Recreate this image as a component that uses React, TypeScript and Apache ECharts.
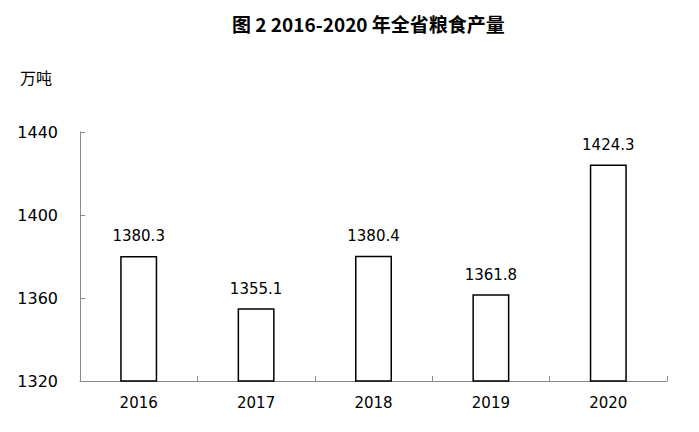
import React, { useEffect, useRef } from "react";
import * as echarts from "echarts";

const categories = ["2016", "2017", "2018", "2019", "2020"];
const production = [1380.3, 1355.1, 1380.4, 1361.8, 1424.3];
const yMin = 1320;
const yMax = 1440;
const yInterval = 40;

export default function App() {
  const ref = useRef<HTMLDivElement>(null);
  useEffect(() => {
    document.body.style.margin = "0";
    const chart = echarts.init(ref.current!, null, { renderer: "svg" });
    const font = "'DejaVu Sans', sans-serif";
    chart.setOption({
      animation: false,
      backgroundColor: "#ffffff",
      title: {
        text: "图 2 2016-2020 年全省粮食产量",
        left: 227,
        top: 9,
        textStyle: {
          fontFamily: "'Noto Sans CJK SC', sans-serif",
          fontSize: 19,
          fontWeight: "bold",
          color: "#000",
        },
      },
      graphic: [
        {
          type: "text",
          left: 20,
          top: 69,
          style: {
            text: "万吨",
            fontFamily: "'Noto Sans CJK SC', sans-serif",
            fontSize: 16,
            fill: "#000",
          },
        },
      ],
      grid: { left: 80, right: 32, top: 132, bottom: 51 },
      xAxis: {
        type: "category",
        data: categories,
        axisLine: { lineStyle: { color: "#888", width: 1 } },
        axisTick: { show: true, inside: true, length: 5, lineStyle: { color: "#888" } },
        axisLabel: { color: "#000", fontSize: 15, fontFamily: font, margin: 14 },
      },
      yAxis: {
        type: "value",
        min: yMin,
        max: yMax,
        interval: yInterval,
        splitLine: { show: false },
        axisLine: { show: true, lineStyle: { color: "#888", width: 1 } },
        axisTick: { show: true, inside: true, length: 5, lineStyle: { color: "#888" } },
        axisLabel: {
          color: "#000",
          fontSize: 16,
          fontFamily: font,
          margin: 22,
          formatter: (v: number) => String(v),
        },
      },
      series: [
        {
          type: "bar",
          data: production,
          barWidth: 37,
          itemStyle: { color: "#ffffff", borderColor: "#000", borderWidth: 1.5 },
          label: {
            show: true,
            position: "top",
            distance: 12,
            color: "#000",
            fontSize: 15,
            fontFamily: font,
            formatter: (p: any) => p.value.toFixed(1),
          },
        },
      ],
    });
    return () => chart.dispose();
  }, []);
  return <div ref={ref} style={{ width: 699, height: 432 }} />;
}
